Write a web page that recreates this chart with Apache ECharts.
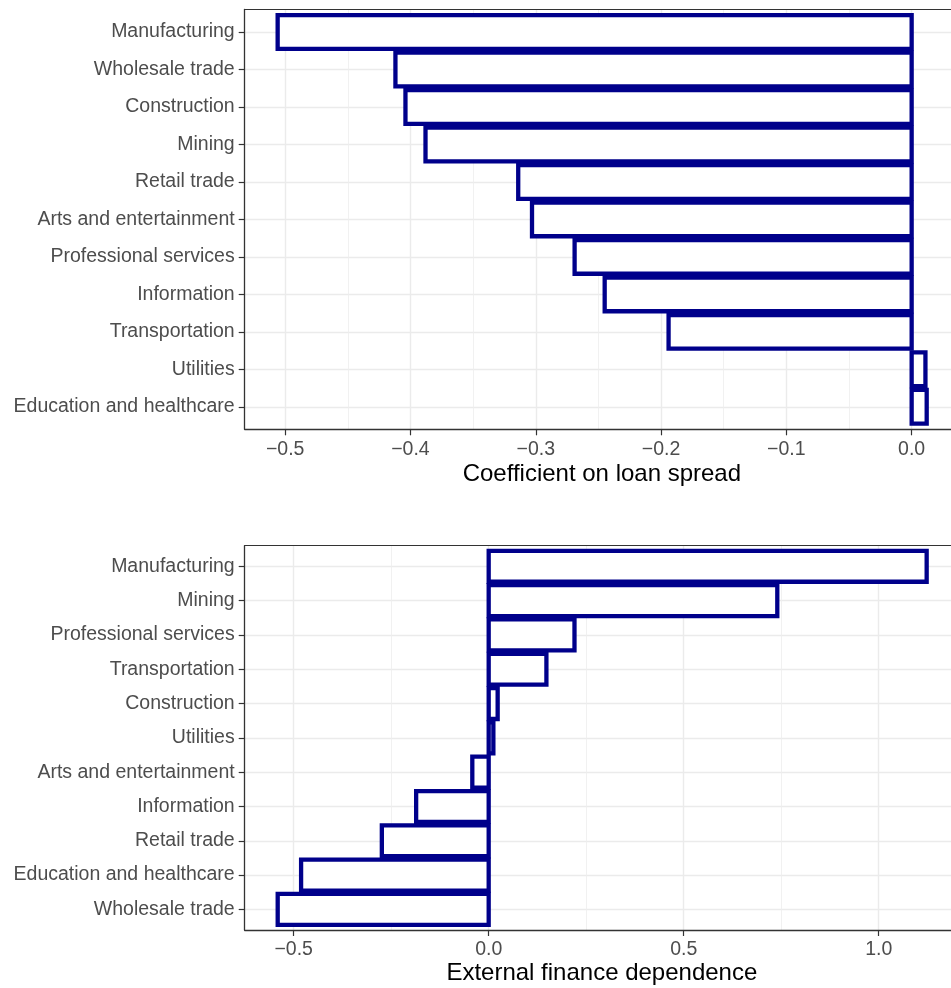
<!DOCTYPE html>
<html>
<head>
<meta charset="utf-8">
<script src="https://cdn.jsdelivr.net/npm/echarts@6/dist/echarts.min.js"></script>
<style>html,body{margin:0;padding:0;background:#fff}#c{width:951px;height:988px}</style>
</head>
<body>
<div id="c"></div>
<script>
const cats1 = ["Manufacturing","Wholesale trade","Construction","Mining","Retail trade","Arts and entertainment","Professional services","Information","Transportation","Utilities","Education and healthcare"];
const vals1 = [-0.506,-0.412,-0.404,-0.388,-0.314,-0.303,-0.269,-0.245,-0.194,0.011,0.012];
const ticks1 = [-0.5,-0.4,-0.3,-0.2,-0.1,0.0];

const cats2 = ["Manufacturing","Mining","Professional services","Transportation","Construction","Utilities","Arts and entertainment","Information","Retail trade","Education and healthcare","Wholesale trade"];
const vals2 = [1.123,0.740,0.220,0.148,0.023,0.012,-0.042,-0.186,-0.274,-0.481,-0.541];
const ticks2 = [-0.5,0.0,0.5,1.0];

const FONT = "'Liberation Sans', Arial, sans-serif";
const fmt = v => (v < -1e-9 ? '\u2212' : '') + Math.abs(v).toFixed(1);

function xAxisDef(gi, min, max, ticks, split, name, gap){
  return {
    type:'value', gridIndex:gi, min:min, max:max, splitNumber:split, position:'bottom',
    name:name, nameLocation:'middle', nameGap:gap,
    nameTextStyle:{color:'#000', fontSize:24, fontFamily:FONT, padding:[0,0,0,8]},
    axisLine:{show:true, onZero:false, lineStyle:{color:'#333333', width:1.3}},
    axisTick:{show:true, length:6, customValues:ticks, lineStyle:{color:'#333333', width:1.2}},
    axisLabel:{customValues:ticks, formatter:fmt, color:'#4D4D4D', fontSize:19.5, fontFamily:FONT, margin:10},
    splitLine:{show:true, lineStyle:{color:'#EBEBEB', width:1.4}},
    minorTick:{show:false, splitNumber:2},
    minorSplitLine:{show:true, lineStyle:{color:'#EEEEEE', width:0.8}}
  };
}
function topAxisDef(gi, min, max){
  return {
    type:'value', gridIndex:gi, min:min, max:max, position:'top',
    axisLine:{show:true, onZero:false, lineStyle:{color:'#333333', width:1.2}},
    axisTick:{show:false}, axisLabel:{show:false}, splitLine:{show:false}
  };
}
function yAxisDef(gi, cats){
  const idx = cats.map((c,i)=>i);
  return {
    type:'value', gridIndex:gi, min:-0.6, max:10.6, inverse:true,
    axisLine:{show:true, onZero:false, lineStyle:{color:'#333333', width:1.3}},
    axisTick:{show:true, length:6, customValues:idx, lineStyle:{color:'#333333', width:1.2}},
    axisLabel:{customValues:idx, formatter:v=>cats[Math.round(v)], color:'#4D4D4D', fontSize:19.5, fontFamily:FONT, margin:10, padding:[6,0,0,0]},
    splitLine:{show:true, lineStyle:{color:'#EBEBEB', width:1.4}}
  };
}
function renderBar(params, api){
  const v = api.value(0), i = api.value(1);
  const p0 = api.coord([0, i - 0.45]);
  const p1 = api.coord([v, i + 0.45]);
  return {
    type:'rect',
    shape:{x:Math.min(p0[0],p1[0]), y:Math.min(p0[1],p1[1]), width:Math.abs(p1[0]-p0[0]), height:Math.abs(p1[1]-p0[1])},
    style:{fill:'#ffffff', stroke:'#00008B', lineWidth:4.3}
  };
}

const chart = echarts.init(document.getElementById('c'), null, {renderer:'canvas'});
chart.setOption({
  animation:false,
  backgroundColor:'#ffffff',
  grid:[
    {left:244.7, top:9.5, right:0, height:419.8, show:false},
    {left:244.7, top:545.7, right:0, height:384.3, show:false}
  ],
  xAxis:[
    xAxisDef(0, -0.5323, 0.0314, ticks1, 5, 'Coefficient on loan spread', 33),
    xAxisDef(1, -0.6256, 1.1854, ticks2, 4, 'External finance dependence', 30),
    topAxisDef(0, -0.5323, 0.0314),
    topAxisDef(1, -0.6256, 1.1854)
  ],
  yAxis:[ yAxisDef(0, cats1), yAxisDef(1, cats2) ],
  series:[
    {type:'custom', xAxisIndex:0, yAxisIndex:0, renderItem:renderBar, clip:true,
     data: vals1.map((v,i)=>[v,i])},
    {type:'custom', xAxisIndex:1, yAxisIndex:1, renderItem:renderBar, clip:true,
     data: vals2.map((v,i)=>[v,i])}
  ]
});
</script>
</body>
</html>
